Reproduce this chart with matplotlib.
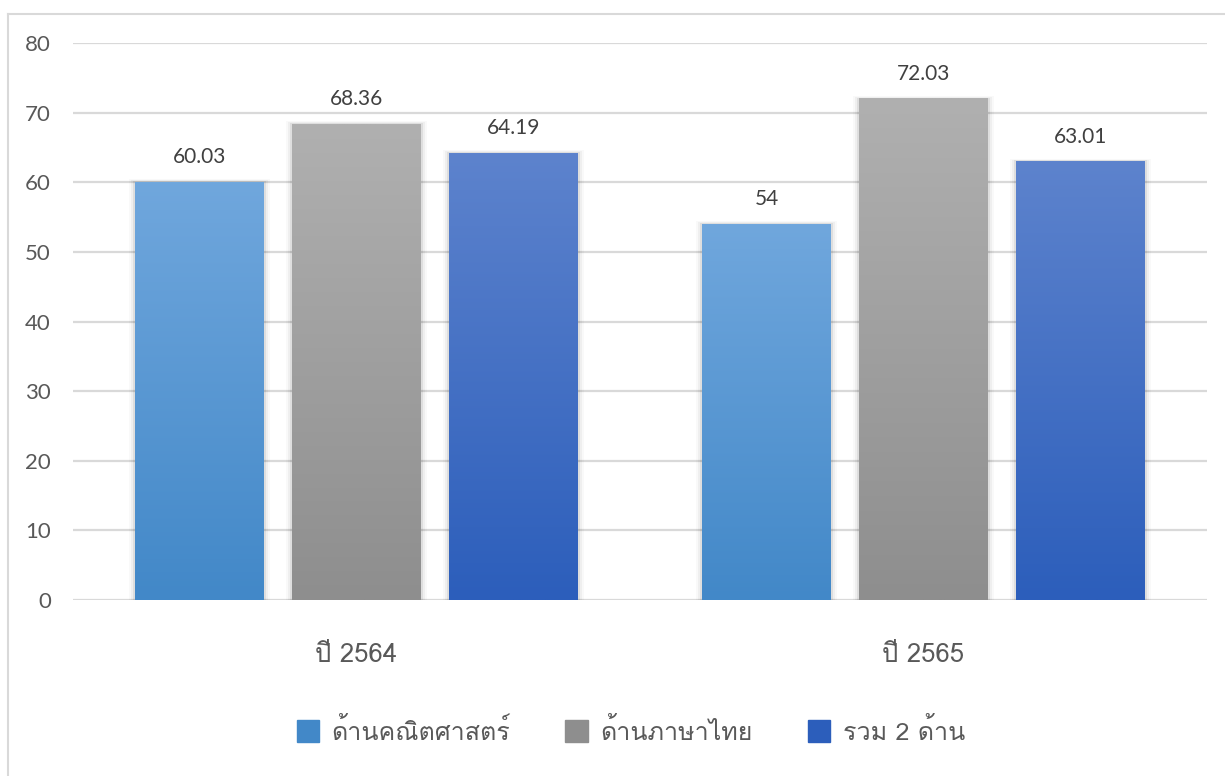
import matplotlib
matplotlib.use("Agg")
import matplotlib.pyplot as plt
import numpy as np
from matplotlib import font_manager
from matplotlib.ft2font import FT2Font
from matplotlib.patches import Rectangle
from matplotlib.colors import LinearSegmentedColormap
from matplotlib.lines import Line2D

categories = ["ปี 2564", "ปี 2565"]
series_names = ["ด้านคณิตศาสตร์", "ด้านภาษาไทย", "รวม 2 ด้าน"]
math_vals = [60.03, 54]
thai_vals = [68.36, 72.03]
total_vals = [64.19, 63.01]
value_labels = [["60.03", "54"], ["68.36", "72.03"], ["64.19", "63.01"]]
yticks = [0, 10, 20, 30, 40, 50, 60, 70, 80]

# find a font with Thai glyphs
thai_font = None
for fe in font_manager.fontManager.ttflist:
    try:
        f = FT2Font(fe.fname)
        cm = f.get_charmap()
        if ord("ก") in cm and ord("้") in cm:
            thai_font = fe.name
            if "Sans" in fe.name or "Loma" in fe.name:
                break
    except Exception:
        pass
fam_num = ["Lato", "DejaVu Sans"]
fam_thai = ([thai_font] if thai_font else []) + ["Lato", "DejaVu Sans"]
plt.rcParams["font.family"] = fam_num

W, H = 1225, 776
fig = plt.figure(figsize=(W / 100, H / 100), dpi=100)
ax = fig.add_axes([73 / W, (H - 600) / H, (1207 - 73) / W, (600 - 43) / H])
ax.set_xlim(-0.5, 1.5)
ax.set_ylim(0, 80)
for s in ax.spines.values():
    s.set_visible(False)
ax.set_yticks(yticks)
ax.tick_params(axis="y", length=0, pad=16, labelsize=16, labelcolor="#595959")
ax.set_xticks([])
for y in yticks:
    ax.axhline(y, color="#d9d9d9", lw=1.6, zorder=0)

gradients = [("#70a7dd", "#4288c8"), ("#b0b0b0", "#8e8e8e"), ("#5d83cd", "#2c5ebb")]
data = [math_vals, thai_vals, total_vals]
bw = 129 / 567
step = 157 / 567
px = 1 / 567
for si, vals in enumerate(data):
    cmap = LinearSegmentedColormap.from_list("g%d" % si, [gradients[si][1], gradients[si][0]])
    x = np.arange(len(vals)) + (si - 1) * step
    bars = ax.bar(x, vals, width=bw, color="none", zorder=2)
    for b, v, lab in zip(bars, vals, value_labels[si]):
        x0 = b.get_x()
        # soft shadow
        for k, a in zip([10, 6, 3], [0.025, 0.04, 0.07]):
            sh = Rectangle((x0 - k * px * 0.6, -0.3), bw + k * px * 1.2, v + 0.3 + k * 0.04,
                           color="black", alpha=a, lw=0, zorder=1)
            ax.add_patch(sh)
        im = ax.imshow(np.linspace(0, 1, 256).reshape(-1, 1), cmap=cmap, origin="lower",
                       extent=[x0, x0 + bw, 0, v], aspect="auto", zorder=2)
        im.set_clip_path(b)
        ax.text(x0 + bw / 2, v + 2.1, lab, ha="center", va="bottom", fontsize=15, color="#404040")

for i, c in enumerate(categories):
    ax.text(i, -7.9, c, ha="center", va="center", fontsize=18.5, color="#595959", family=fam_thai)

handles = [Rectangle((0, 0), 1, 1, color=g[1]) for g in gradients]
leg = fig.legend(handles, series_names, loc="center", bbox_to_anchor=(0.515, (H - 731) / H),
                 ncol=3, frameon=False, prop={"family": fam_thai, "size": 18},
                 handlelength=0.9, handleheight=1.0, columnspacing=2.2, handletextpad=0.5)
for t in leg.get_texts():
    t.set_color("#595959")

# chart border
fig.add_artist(Line2D([8 / W, 1], [1 - 14 / H, 1 - 14 / H], color="#d9d9d9", lw=1.5))
fig.add_artist(Line2D([8 / W, 8 / W], [0, 1 - 14 / H], color="#d9d9d9", lw=1.5))

fig.savefig("out.png", dpi=100)
